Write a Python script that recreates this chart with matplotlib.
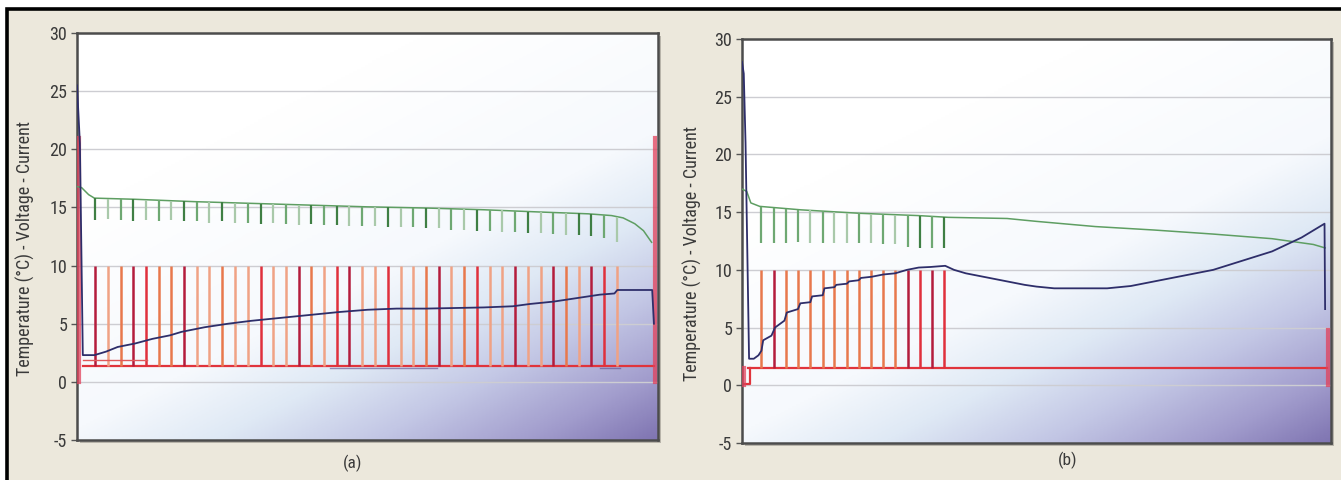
import numpy as np
import matplotlib
matplotlib.use('Agg')
import matplotlib.pyplot as plt
from matplotlib.colors import LinearSegmentedColormap
from matplotlib.patches import Rectangle
from matplotlib import font_manager as fm

# ---------------- data (x in % of test duration) ----------------
# Panel (a)
a_pulse_x = [3.1, 5.3, 7.5, 9.7, 11.9, 14.1, 16.2, 18.4, 20.6, 22.8, 25.0, 27.2, 29.4, 31.6,
             33.8, 36.0, 38.2, 40.3, 42.5, 44.7, 46.9, 49.1, 51.3, 53.5, 55.7, 57.9, 60.1, 62.3,
             64.4, 66.6, 68.8, 71.0, 73.2, 75.4, 77.6, 79.8, 82.0, 84.2, 86.4, 88.5, 90.7, 92.9]
a_pulse_peak = 10.0
a_current_base = 1.4
a_volt_x = [0, 0.8, 2.0, 3.0, 10, 20, 30, 40, 50, 60, 70, 80, 88, 92, 94, 96, 97.5, 98.9]
a_volt_y = [16.8, 16.7, 16.1, 15.8, 15.7, 15.5, 15.35, 15.2, 15.05, 14.95, 14.8, 14.6, 14.45,
            14.3, 14.1, 13.6, 13.0, 12.0]
a_volt_dip = [13.9, 14.0, 13.9, 13.8, 13.9, 13.8, 13.9, 13.8, 13.8, 13.7, 13.8,
              13.7, 13.7, 13.6, 13.7, 13.6, 13.5, 13.6, 13.5, 13.5, 13.4,
              13.4, 13.4, 13.3, 13.3, 13.3, 13.2, 13.2, 13.1, 13.1, 13.0,
              13.0, 12.9, 12.9, 12.8, 12.8, 12.7, 12.6, 12.6, 12.5, 12.4, 12.0]
a_temp_x = [0, 0.5, 1.0, 3, 5, 7, 10, 13, 16, 18, 22, 26, 30, 35, 40, 45, 50, 55, 60, 65,
            70, 75, 78, 82, 86, 90, 92.5, 93.0, 99.0, 99.3]
a_temp_y = [25.5, 20.5, 2.3, 2.3, 2.6, 3.0, 3.3, 3.7, 4.0, 4.3, 4.7, 5.0, 5.25, 5.5, 5.75,
            6.0, 6.2, 6.3, 6.3, 6.35, 6.4, 6.5, 6.7, 6.9, 7.2, 7.5, 7.6, 7.9, 7.9, 5.0]

# Panel (b)
b_pulse_x = [3.3, 5.4, 7.5, 9.5, 11.6, 13.7, 15.7, 17.8, 19.8, 21.9, 24.0, 26.0, 28.1, 30.2,
             32.2, 34.3]
b_pulse_peak = 10.0
b_current_base = 1.5
b_volt_x = [0, 0.8, 1.5, 3, 10, 20, 30, 35, 45, 50, 60, 70, 80, 90, 97, 99.0]
b_volt_y = [17.0, 16.8, 15.8, 15.5, 15.2, 14.9, 14.7, 14.55, 14.45, 14.2, 13.75, 13.45, 13.1,
            12.7, 12.2, 11.9]
b_volt_dip = [12.3, 12.3, 12.3, 12.4, 12.3, 12.3, 12.3, 12.3, 12.3, 12.3, 12.2, 12.2, 12.0,
              11.9, 11.9, 11.9]
b_temp_x = [0, 0.3, 0.6, 1.2, 2.0, 2.8, 3.3, 3.6, 5.0, 5.6, 7.2, 7.6, 9.5, 9.9, 11.6, 11.9,
            13.7, 14.0, 15.7, 16.0, 17.8, 18.2, 19.8, 20.2, 22, 24, 26, 28, 30, 32, 34.5, 36,
            38, 41, 45, 48, 50, 53, 62, 66, 70, 75, 80, 85, 90, 95, 98.9, 99.0]
b_temp_y = [28.0, 27.0, 21.0, 2.3, 2.3, 2.6, 3.0, 3.9, 4.3, 5.0, 5.6, 6.3, 6.6, 7.1, 7.2, 7.7,
            7.8, 8.4, 8.5, 8.7, 8.8, 9.0, 9.1, 9.3, 9.4, 9.6, 9.7, 10.0, 10.2, 10.25, 10.35, 10.0,
            9.7, 9.4, 9.0, 8.7, 8.55, 8.4, 8.4, 8.6, 9.0, 9.5, 10.0, 10.8, 11.6, 12.8, 14.0,
            6.6]

y_ticks = [-5, 0, 5, 10, 15, 20, 25, 30]
y_label = "Temperature (°C) - Voltage - Current"
panel_labels = ["(a)", "(b)"]

# ---------------- styling ----------------
names = {f.name for f in fm.fontManager.ttflist}
FONT = 'DejaVu Sans'
for cand in ['Liberation Sans Narrow', 'DejaVu Sans Condensed', 'Roboto Condensed',
             'Liberation Sans']:
    if cand in names:
        FONT = cand
        break
plt.rcParams['font.family'] = [FONT, 'DejaVu Sans']
plt.rcParams['axes.unicode_minus'] = False

a_pulse_style = "dlmdrmmdllmllrlldmlrdllrllmdlmrlldlldmldrl"
b_pulse_style = "mdmmmmmmmmmmdrdr"
a_green_style = "dlmdlmldmldlmdlmldmdlmldlmdlmldmlmdlmlddml"
b_green_style = "mmmmlmllmlmlmdmd"
RED = {'d': '#b41c3c', 'r': '#e0303c', 'm': '#e8784c', 'l': '#f0a284'}
GRN = {'d': '#3f7f44', 'm': '#6ea872', 'l': '#a9c9aa'}
TXT = '#3a3a3a'

BG = '#ece8dc'
W, H = 1341, 480
fig = plt.figure(figsize=(W / 100, H / 100), dpi=100, facecolor='white')
fig.patches.append(Rectangle((7 / W, -0.05), 1.1, 1 - 9 / H + 0.05, transform=fig.transFigure,
                             facecolor=BG, edgecolor='black', linewidth=2.6, zorder=-10))

cmap = LinearSegmentedColormap.from_list('bg', [
    (0.0, '#ffffff'), (0.40, '#f6f9fd'), (0.55, '#dfe9f5'), (0.70, '#c3c7e5'),
    (0.85, '#a29dcd'), (1.0, '#776bab')])


def gradient_bg(ax):
    u = np.linspace(0, 1, 300)[None, :]
    v = np.linspace(1, 0, 200)[:, None]
    s = np.clip(u * 0.55 + (1 - v) * 0.75 - 0.33, 0, 1)
    ax.imshow(cmap(s), extent=[0, 100, -5, 30], aspect='auto', zorder=0,
              interpolation='bilinear', origin='upper')


def panel(rect, pulse_x, peak, base, volt_x, volt_y, dip, temp_x, temp_y,
          pstyle, gstyle, label_x, plabel, plabel_xy, right_cur, left_cur):
    l, b, w, h = rect
    fig.patches.append(Rectangle((l + 3 / W, b - 3 / H), w, h, transform=fig.transFigure,
                                 facecolor='#b8b4aa', edgecolor='none', zorder=-5))
    ax = fig.add_axes(rect)
    gradient_bg(ax)
    ax.set_xlim(0, 100)
    ax.set_ylim(-5, 30)
    ax.set_yticks(y_ticks)
    ax.set_xticks([])
    for yy in y_ticks[1:-1]:
        ax.axhline(yy, color='#cdcdd2', lw=1.0, zorder=0.5)
    for sp in ax.spines.values():
        sp.set_color('#4c4c4c')
        sp.set_linewidth(1.8)
    ax.tick_params(axis='y', direction='out', length=4, width=1, color='#555555',
                   labelsize=13, labelcolor=TXT, pad=3)
    ax.set_ylabel(y_label, fontsize=13, color=TXT)
    ax.yaxis.set_label_coords(label_x, 0.47)

    # current
    ax.plot([1.0, 99.3], [base, base], color='#e0343c', lw=1.6, zorder=2)
    ax.vlines(pulse_x, base, peak, colors=[RED[c] for c in pstyle], lw=1.8, zorder=2)
    ax.plot([0.3, 0.3], left_cur, color='#e2405a', lw=3.0, alpha=0.75, zorder=3)
    ax.plot([99.5, 99.5], right_cur, color='#e2405a', lw=3.0, alpha=0.75, zorder=3)

    # voltage
    ax.plot(volt_x, volt_y, color='#5e9e62', lw=1.1, zorder=3)
    tops = np.interp(pulse_x, volt_x, volt_y)
    ax.vlines(pulse_x, dip, tops, colors=[GRN[c] for c in gstyle], lw=1.6, zorder=3)

    # temperature
    ax.plot(temp_x, temp_y, color='#2e2e6a', lw=1.3, zorder=4)
    fig.text(plabel_xy[0] / W, 1 - plabel_xy[1] / H, plabel, ha='center', va='center',
             fontsize=12.5, color=TXT)
    return ax


axa = panel([77 / W, 1 - 440 / H, 581 / W, 407 / H], a_pulse_x, a_pulse_peak, a_current_base,
            a_volt_x, a_volt_y, a_volt_dip, a_temp_x, a_temp_y, a_pulse_style, a_green_style,
            -0.072, panel_labels[0], (353, 463), [0.0, 21.0], [0.0, 21.0])
# extra traces near the current baseline of (a)
axa.plot([1.0, 12.0], [1.9, 1.9], color='#e05a5a', lw=1.0, zorder=2)
axa.plot([43.5, 62.0], [1.15, 1.15], color='#5a4a8a', lw=1.0, alpha=0.6, zorder=2)
axa.plot([90.0, 93.5], [1.15, 1.15], color='#5a4a8a', lw=1.0, alpha=0.6, zorder=2)

axb = panel([742 / W, 1 - 443 / H, 589 / W, 404 / H], b_pulse_x, b_pulse_peak, b_current_base,
            b_volt_x, b_volt_y, b_volt_dip, b_temp_x, b_temp_y, b_pulse_style, b_green_style,
            -0.068, panel_labels[1], (1068, 460), [0.0, 4.8], [0.0, 1.5])
axb.plot([0.0, 1.3, 1.3], [0.1, 0.1, 1.5], color='#e0343c', lw=1.6, zorder=2)

fig.savefig('out.png', dpi=100, facecolor=fig.get_facecolor())
